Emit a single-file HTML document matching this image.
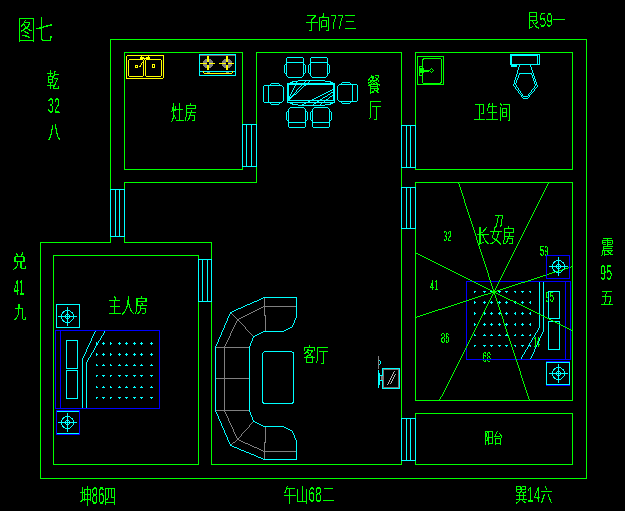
<!DOCTYPE html>
<html lang="zh">
<head>
<meta charset="utf-8">
<title>图七</title>
<style>
html,body{margin:0;padding:0;background:#000;overflow:hidden}
svg{display:block}
#geo{fill:none;stroke-width:1;stroke-linecap:square}
#geo{shape-rendering:crispEdges}
#txt text{font-family:"Liberation Sans","Noto Sans CJK SC",sans-serif;font-size:100px;font-weight:100;fill:#00ff00}
#txt .m{font-size:112px}
</style>
</head>
<body>
<svg width="625" height="511" viewBox="0 0 625 511">
<rect width="625" height="511" fill="#000"/>
<defs><filter id="crisp" x="0" y="0" width="625" height="511" filterUnits="userSpaceOnUse" color-interpolation-filters="sRGB"><feComponentTransfer><feFuncA type="discrete" tableValues="0 1 1 1 1 1"/></feComponentTransfer></filter></defs>
<g id="txt" filter="url(#crisp)">
<text transform="matrix(0.1775 0 0 0.2717 17.40 39.83)">图七</text>
<text transform="matrix(0.1227 0 0 0.1811 305.63 28.87)">子向<tspan class="m" fill-opacity="0.29" textLength="112" lengthAdjust="spacingAndGlyphs">77</tspan>三</text>
<text transform="matrix(0.1212 0 0 0.1848 527.28 26.72)">艮<tspan class="m" fill-opacity="0.29" textLength="112" lengthAdjust="spacingAndGlyphs">59</tspan>一</text>
<text transform="matrix(0.1263 0 0 0.2065 47.00 88.15)">乾</text>
<text transform="matrix(0.1092 0 0 0.2144 47.85 113.10)" fill-opacity="0.32">32</text>
<text transform="matrix(0.1263 0 0 0.1919 48.00 139.19)">八</text>
<text transform="matrix(0.1452 0 0 0.1811 12.17 267.87)">兑</text>
<text transform="matrix(0.0930 0 0 0.2144 13.85 295.10)" fill-opacity="0.36">41</text>
<text transform="matrix(0.1263 0 0 0.1739 14.00 317.81)">九</text>
<text transform="matrix(0.1263 0 0 0.1957 601.00 254.43)">震</text>
<text transform="matrix(0.1092 0 0 0.2144 600.00 280.10)" fill-opacity="0.32">95</text>
<text transform="matrix(0.1347 0 0 0.1707 600.17 303.56)">五</text>
<text transform="matrix(0.1158 0 0 0.2071 79.89 504.39)">坤<tspan class="m" fill-opacity="0.32" textLength="112" lengthAdjust="spacingAndGlyphs">86</tspan>四</text>
<text transform="matrix(0.1227 0 0 0.1893 283.63 501.78)">午山<tspan class="m" fill-opacity="0.29" textLength="112" lengthAdjust="spacingAndGlyphs">68</tspan>二</text>
<text transform="matrix(0.1182 0 0 0.1957 515.30 502.43)">巽<tspan class="m" fill-opacity="0.29" textLength="112" lengthAdjust="spacingAndGlyphs">14</tspan>六</text>
<text transform="matrix(0.1316 0 0 0.2065 171.00 120.35)">灶房</text>
<text transform="matrix(0.1347 0 0 0.2071 367.17 92.39)">餐</text>
<text transform="matrix(0.1263 0 0 0.2087 369.00 116.77)">厅</text>
<text transform="matrix(0.1263 0 0 0.1882 473.20 118.73)">卫生间</text>
<text transform="matrix(0.1333 0 0 0.2065 108.20 313.35)">主人房</text>
<text transform="matrix(0.1265 0 0 0.1920 303.17 361.74)">客厅</text>
<text transform="matrix(0.1299 0 0 0.1920 476.18 242.74)">长女房</text>
<text transform="matrix(0.0935 0 0 0.1522 484.19 442.98)">阳台</text>
<text transform="matrix(0.0758 0 0 0.1396 443.30 240.86)" fill-opacity="0.4">32</text>
<text transform="matrix(0.0758 0 0 0.1605 495.09 226.69)" fill-opacity="0.5">77</text>
<text transform="matrix(0.0758 0 0 0.1396 540.00 255.86)" fill-opacity="0.4">59</text>
<text transform="matrix(0.0758 0 0 0.1396 430.00 289.86)" fill-opacity="0.45">41</text>
<text transform="matrix(0.0758 0 0 0.1396 441.09 342.86)" fill-opacity="0.4">86</text>
<text transform="matrix(0.0758 0 0 0.1396 482.45 361.86)" fill-opacity="0.36">68</text>
<text transform="matrix(0.0758 0 0 0.1396 545.54 301.86)" fill-opacity="0.4">95</text>
<text transform="matrix(0.0511 0 0 0.1396 534.01 346.86)" fill-opacity="0.45">14</text>
</g>
<g id="geo" transform="translate(0.5,0.5)">
<g id="walls">
<polyline points="110,242 40,242 40,478 586,478 586,39 110,39 110,242" stroke="#00ff00"/>
<rect x="124" y="52" width="118" height="117" stroke="#00ff00"/>
<polyline points="256,52 401,52 401,464 211,464 211,242 124,242 124,182 256,182 256,52" stroke="#00ff00"/>
<rect x="53" y="255" width="145" height="209" stroke="#00ff00"/>
<rect x="415" y="52" width="157" height="117" stroke="#00ff00"/>
<rect x="415" y="182" width="157" height="218" stroke="#00ff00"/>
<rect x="415" y="413" width="157" height="51" stroke="#00ff00"/>
</g>
<g id="windows">
<rect x="110" y="189" width="14" height="47" stroke="#00ffff" fill="#000"/>
<line x1="115" y1="189" x2="115" y2="236" stroke="#00ffff"/>
<line x1="119" y1="189" x2="119" y2="236" stroke="#00ffff"/>
<rect x="242" y="124" width="14" height="42" stroke="#00ffff" fill="#000"/>
<line x1="246" y1="124" x2="246" y2="166" stroke="#00ffff"/>
<line x1="251" y1="124" x2="251" y2="166" stroke="#00ffff"/>
<rect x="198" y="259" width="13" height="42" stroke="#00ffff" fill="#000"/>
<line x1="202" y1="259" x2="202" y2="301" stroke="#00ffff"/>
<line x1="207" y1="259" x2="207" y2="301" stroke="#00ffff"/>
<rect x="401" y="125" width="14" height="42" stroke="#00ffff" fill="#000"/>
<line x1="406" y1="125" x2="406" y2="167" stroke="#00ffff"/>
<line x1="410" y1="125" x2="410" y2="167" stroke="#00ffff"/>
<rect x="401" y="187" width="14" height="41" stroke="#00ffff" fill="#000"/>
<line x1="406" y1="187" x2="406" y2="228" stroke="#00ffff"/>
<line x1="410" y1="187" x2="410" y2="228" stroke="#00ffff"/>
<rect x="401" y="418" width="14" height="42" stroke="#00ffff" fill="#000"/>
<line x1="406" y1="418" x2="406" y2="460" stroke="#00ffff"/>
<line x1="410" y1="418" x2="410" y2="460" stroke="#00ffff"/>
</g>
<g id="beds">
<g stroke="#00ffff" stroke-linecap="butt">
<line x1="95.5" y1="343" x2="97.5" y2="343"/><line x1="96" y1="341.5" x2="96" y2="344.5"/>
<line x1="101.5" y1="343" x2="104.5" y2="343"/><line x1="103" y1="341.5" x2="103" y2="344.5"/>
<line x1="109.5" y1="343" x2="111.5" y2="343"/><line x1="110" y1="341.5" x2="110" y2="344.5"/>
<line x1="117.5" y1="343" x2="120.5" y2="343"/><line x1="119" y1="341.5" x2="119" y2="344.5"/>
<line x1="124.5" y1="343" x2="127.5" y2="343"/><line x1="126" y1="341.5" x2="126" y2="344.5"/>
<line x1="132.5" y1="343" x2="135.5" y2="343"/><line x1="134" y1="341.5" x2="134" y2="344.5"/>
<line x1="139.5" y1="343" x2="142.5" y2="343"/><line x1="141" y1="341.5" x2="141" y2="344.5"/>
<line x1="149.5" y1="343" x2="152.5" y2="343"/><line x1="151" y1="341.5" x2="151" y2="344.5"/>
<line x1="95.5" y1="354" x2="97.5" y2="354"/><line x1="96" y1="352.5" x2="96" y2="355.5"/>
<line x1="101.5" y1="354" x2="104.5" y2="354"/><line x1="103" y1="352.5" x2="103" y2="355.5"/>
<line x1="109.5" y1="354" x2="111.5" y2="354"/><line x1="110" y1="352.5" x2="110" y2="355.5"/>
<line x1="117.5" y1="354" x2="120.5" y2="354"/><line x1="119" y1="352.5" x2="119" y2="355.5"/>
<line x1="124.5" y1="354" x2="127.5" y2="354"/><line x1="126" y1="352.5" x2="126" y2="355.5"/>
<line x1="132.5" y1="354" x2="135.5" y2="354"/><line x1="134" y1="352.5" x2="134" y2="355.5"/>
<line x1="139.5" y1="354" x2="142.5" y2="354"/><line x1="141" y1="352.5" x2="141" y2="355.5"/>
<line x1="149.5" y1="354" x2="152.5" y2="354"/><line x1="151" y1="352.5" x2="151" y2="355.5"/>
<line x1="95.5" y1="365" x2="97.5" y2="365"/><line x1="96" y1="363.5" x2="96" y2="365.5"/>
<line x1="101.5" y1="365" x2="104.5" y2="365"/><line x1="103" y1="363.5" x2="103" y2="365.5"/>
<line x1="109.5" y1="365" x2="111.5" y2="365"/><line x1="110" y1="363.5" x2="110" y2="365.5"/>
<line x1="117.5" y1="365" x2="120.5" y2="365"/><line x1="119" y1="363.5" x2="119" y2="365.5"/>
<line x1="124.5" y1="365" x2="127.5" y2="365"/><line x1="126" y1="363.5" x2="126" y2="365.5"/>
<line x1="132.5" y1="365" x2="135.5" y2="365"/><line x1="134" y1="363.5" x2="134" y2="365.5"/>
<line x1="139.5" y1="365" x2="142.5" y2="365"/><line x1="141" y1="363.5" x2="141" y2="365.5"/>
<line x1="149.5" y1="365" x2="152.5" y2="365"/><line x1="151" y1="363.5" x2="151" y2="365.5"/>
<line x1="95.5" y1="375" x2="97.5" y2="375"/><line x1="96" y1="374.5" x2="96" y2="376.5"/>
<line x1="101.5" y1="375" x2="104.5" y2="375"/><line x1="103" y1="374.5" x2="103" y2="376.5"/>
<line x1="109.5" y1="375" x2="111.5" y2="375"/><line x1="110" y1="374.5" x2="110" y2="376.5"/>
<line x1="117.5" y1="375" x2="120.5" y2="375"/><line x1="119" y1="374.5" x2="119" y2="376.5"/>
<line x1="124.5" y1="375" x2="127.5" y2="375"/><line x1="126" y1="374.5" x2="126" y2="376.5"/>
<line x1="132.5" y1="375" x2="135.5" y2="375"/><line x1="134" y1="374.5" x2="134" y2="376.5"/>
<line x1="139.5" y1="375" x2="142.5" y2="375"/><line x1="141" y1="374.5" x2="141" y2="376.5"/>
<line x1="149.5" y1="375" x2="152.5" y2="375"/><line x1="151" y1="374.5" x2="151" y2="376.5"/>
<line x1="95.5" y1="387" x2="97.5" y2="387"/><line x1="96" y1="385.5" x2="96" y2="387.5"/>
<line x1="101.5" y1="387" x2="104.5" y2="387"/><line x1="103" y1="385.5" x2="103" y2="387.5"/>
<line x1="109.5" y1="387" x2="111.5" y2="387"/><line x1="110" y1="385.5" x2="110" y2="387.5"/>
<line x1="117.5" y1="387" x2="120.5" y2="387"/><line x1="119" y1="385.5" x2="119" y2="387.5"/>
<line x1="124.5" y1="387" x2="127.5" y2="387"/><line x1="126" y1="385.5" x2="126" y2="387.5"/>
<line x1="132.5" y1="387" x2="135.5" y2="387"/><line x1="134" y1="385.5" x2="134" y2="387.5"/>
<line x1="139.5" y1="387" x2="142.5" y2="387"/><line x1="141" y1="385.5" x2="141" y2="387.5"/>
<line x1="149.5" y1="387" x2="152.5" y2="387"/><line x1="151" y1="385.5" x2="151" y2="387.5"/>
<line x1="95.5" y1="397" x2="97.5" y2="397"/><line x1="96" y1="396.5" x2="96" y2="398.5"/>
<line x1="101.5" y1="397" x2="104.5" y2="397"/><line x1="103" y1="396.5" x2="103" y2="398.5"/>
<line x1="109.5" y1="397" x2="111.5" y2="397"/><line x1="110" y1="396.5" x2="110" y2="398.5"/>
<line x1="117.5" y1="397" x2="120.5" y2="397"/><line x1="119" y1="396.5" x2="119" y2="398.5"/>
<line x1="124.5" y1="397" x2="127.5" y2="397"/><line x1="126" y1="396.5" x2="126" y2="398.5"/>
<line x1="132.5" y1="397" x2="135.5" y2="397"/><line x1="134" y1="396.5" x2="134" y2="398.5"/>
<line x1="139.5" y1="397" x2="142.5" y2="397"/><line x1="141" y1="396.5" x2="141" y2="398.5"/>
<line x1="149.5" y1="397" x2="152.5" y2="397"/><line x1="151" y1="396.5" x2="151" y2="398.5"/>
</g>
<g stroke="#00ffff" stroke-linecap="butt">
<line x1="473.5" y1="291" x2="475.5" y2="291"/><line x1="474" y1="290.5" x2="474" y2="292.5"/>
<line x1="482.5" y1="291" x2="485.5" y2="291"/><line x1="484" y1="290.5" x2="484" y2="292.5"/>
<line x1="489.5" y1="291" x2="492.5" y2="291"/><line x1="491" y1="290.5" x2="491" y2="292.5"/>
<line x1="497.5" y1="291" x2="500.5" y2="291"/><line x1="499" y1="290.5" x2="499" y2="292.5"/>
<line x1="504.5" y1="291" x2="507.5" y2="291"/><line x1="506" y1="290.5" x2="506" y2="292.5"/>
<line x1="513.5" y1="291" x2="515.5" y2="291"/><line x1="515" y1="290.5" x2="515" y2="292.5"/>
<line x1="520.5" y1="291" x2="523.5" y2="291"/><line x1="522" y1="290.5" x2="522" y2="292.5"/>
<line x1="528.5" y1="291" x2="530.5" y2="291"/><line x1="530" y1="290.5" x2="530" y2="292.5"/>
<line x1="473.5" y1="302" x2="475.5" y2="302"/><line x1="474" y1="300.5" x2="474" y2="303.5"/>
<line x1="482.5" y1="302" x2="485.5" y2="302"/><line x1="484" y1="300.5" x2="484" y2="303.5"/>
<line x1="489.5" y1="302" x2="492.5" y2="302"/><line x1="491" y1="300.5" x2="491" y2="303.5"/>
<line x1="497.5" y1="302" x2="500.5" y2="302"/><line x1="499" y1="300.5" x2="499" y2="303.5"/>
<line x1="504.5" y1="302" x2="507.5" y2="302"/><line x1="506" y1="300.5" x2="506" y2="303.5"/>
<line x1="513.5" y1="302" x2="515.5" y2="302"/><line x1="515" y1="300.5" x2="515" y2="303.5"/>
<line x1="520.5" y1="302" x2="523.5" y2="302"/><line x1="522" y1="300.5" x2="522" y2="303.5"/>
<line x1="528.5" y1="302" x2="530.5" y2="302"/><line x1="530" y1="300.5" x2="530" y2="303.5"/>
<line x1="473.5" y1="313" x2="475.5" y2="313"/><line x1="474" y1="311.5" x2="474" y2="314.5"/>
<line x1="482.5" y1="313" x2="485.5" y2="313"/><line x1="484" y1="311.5" x2="484" y2="314.5"/>
<line x1="489.5" y1="313" x2="492.5" y2="313"/><line x1="491" y1="311.5" x2="491" y2="314.5"/>
<line x1="497.5" y1="313" x2="500.5" y2="313"/><line x1="499" y1="311.5" x2="499" y2="314.5"/>
<line x1="504.5" y1="313" x2="507.5" y2="313"/><line x1="506" y1="311.5" x2="506" y2="314.5"/>
<line x1="513.5" y1="313" x2="515.5" y2="313"/><line x1="515" y1="311.5" x2="515" y2="314.5"/>
<line x1="520.5" y1="313" x2="523.5" y2="313"/><line x1="522" y1="311.5" x2="522" y2="314.5"/>
<line x1="528.5" y1="313" x2="530.5" y2="313"/><line x1="530" y1="311.5" x2="530" y2="314.5"/>
<line x1="473.5" y1="324" x2="475.5" y2="324"/><line x1="474" y1="322.5" x2="474" y2="325.5"/>
<line x1="482.5" y1="324" x2="485.5" y2="324"/><line x1="484" y1="322.5" x2="484" y2="325.5"/>
<line x1="489.5" y1="324" x2="492.5" y2="324"/><line x1="491" y1="322.5" x2="491" y2="325.5"/>
<line x1="497.5" y1="324" x2="500.5" y2="324"/><line x1="499" y1="322.5" x2="499" y2="325.5"/>
<line x1="504.5" y1="324" x2="507.5" y2="324"/><line x1="506" y1="322.5" x2="506" y2="325.5"/>
<line x1="513.5" y1="324" x2="515.5" y2="324"/><line x1="515" y1="322.5" x2="515" y2="325.5"/>
<line x1="520.5" y1="324" x2="523.5" y2="324"/><line x1="522" y1="322.5" x2="522" y2="325.5"/>
<line x1="528.5" y1="324" x2="530.5" y2="324"/><line x1="530" y1="322.5" x2="530" y2="325.5"/>
<line x1="473.5" y1="335" x2="475.5" y2="335"/><line x1="474" y1="333.5" x2="474" y2="335.5"/>
<line x1="482.5" y1="335" x2="485.5" y2="335"/><line x1="484" y1="333.5" x2="484" y2="335.5"/>
<line x1="489.5" y1="335" x2="492.5" y2="335"/><line x1="491" y1="333.5" x2="491" y2="335.5"/>
<line x1="497.5" y1="335" x2="500.5" y2="335"/><line x1="499" y1="333.5" x2="499" y2="335.5"/>
<line x1="504.5" y1="335" x2="507.5" y2="335"/><line x1="506" y1="333.5" x2="506" y2="335.5"/>
<line x1="513.5" y1="335" x2="515.5" y2="335"/><line x1="515" y1="333.5" x2="515" y2="335.5"/>
<line x1="520.5" y1="335" x2="523.5" y2="335"/><line x1="522" y1="333.5" x2="522" y2="335.5"/>
<line x1="528.5" y1="335" x2="530.5" y2="335"/><line x1="530" y1="333.5" x2="530" y2="335.5"/>
<line x1="473.5" y1="345" x2="475.5" y2="345"/><line x1="474" y1="344.5" x2="474" y2="346.5"/>
<line x1="482.5" y1="345" x2="485.5" y2="345"/><line x1="484" y1="344.5" x2="484" y2="346.5"/>
<line x1="489.5" y1="345" x2="492.5" y2="345"/><line x1="491" y1="344.5" x2="491" y2="346.5"/>
<line x1="497.5" y1="345" x2="500.5" y2="345"/><line x1="499" y1="344.5" x2="499" y2="346.5"/>
<line x1="504.5" y1="345" x2="507.5" y2="345"/><line x1="506" y1="344.5" x2="506" y2="346.5"/>
<line x1="513.5" y1="345" x2="515.5" y2="345"/><line x1="515" y1="344.5" x2="515" y2="346.5"/>
<line x1="520.5" y1="345" x2="523.5" y2="345"/><line x1="522" y1="344.5" x2="522" y2="346.5"/>
<line x1="528.5" y1="345" x2="530.5" y2="345"/><line x1="530" y1="344.5" x2="530" y2="346.5"/>
</g>
<g>
<rect x="66" y="340" width="11" height="28" stroke="#00ffff"/>
<rect x="66" y="370" width="11" height="28" stroke="#00ffff"/>
<polygon points="94.72,329.50 95.72,329.50 82.28,359.50 81.28,359.50" fill="#00ffff" stroke="none"/>
<line x1="82" y1="359" x2="82" y2="408" stroke="#00ffff"/>
<polygon points="104.80,329.50 105.80,329.50 86.20,362.50 85.20,362.50" fill="#00ffff" stroke="none"/>
<line x1="86" y1="362" x2="86" y2="408" stroke="#00ffff"/>
<rect x="55" y="330" width="104" height="78" stroke="#0000ff"/>
<line x1="60" y1="330" x2="60" y2="408" stroke="#0000ff"/>
</g>
<rect x="548" y="291" width="11" height="27" stroke="#00ffff"/>
<rect x="548" y="321" width="11" height="28" stroke="#00ffff"/>
<g transform="translate(625,689) scale(-1,-1)">
<polygon points="94.72,329.50 95.72,329.50 82.28,359.50 81.28,359.50" fill="#00ffff" stroke="none"/>
<line x1="82" y1="359" x2="82" y2="408" stroke="#00ffff"/>
<polygon points="104.80,329.50 105.80,329.50 86.20,362.50 85.20,362.50" fill="#00ffff" stroke="none"/>
<line x1="86" y1="362" x2="86" y2="408" stroke="#00ffff"/>
<rect x="55" y="330" width="104" height="78" stroke="#0000ff"/>
<line x1="60" y1="330" x2="60" y2="408" stroke="#0000ff"/>
</g>
</g>
<g id="rays">
<polygon points="457.34,181.50 458.34,181.50 494.16,291.90 493.16,291.90" fill="#00ff00" stroke="none"/>
<polygon points="547.75,181.50 548.75,181.50 493.75,291.90 492.75,291.90" fill="#00ff00" stroke="none"/>
<polygon points="414.50,251.25 414.50,252.25 494.00,292.15 494.00,291.15" fill="#00ff00" stroke="none"/>
<polygon points="414.50,316.66 414.50,317.66 494.00,291.74 494.00,290.74" fill="#00ff00" stroke="none"/>
<polygon points="493.00,291.06 493.00,292.06 572.50,266.34 572.50,265.34" fill="#00ff00" stroke="none"/>
<polygon points="493.00,290.65 493.00,291.65 572.50,330.75 572.50,329.75" fill="#00ff00" stroke="none"/>
<polygon points="493.25,290.90 494.25,290.90 439.25,400.50 438.25,400.50" fill="#00ff00" stroke="none"/>
<polygon points="492.84,290.90 493.84,290.90 529.66,400.50 528.66,400.50" fill="#00ff00" stroke="none"/>
</g>
<g id="stands">
<rect x="56" y="304" width="23" height="23" stroke="#00ffff"/>
<circle cx="67" cy="316" r="6" stroke="#00ffff"/>
<circle cx="67" cy="316" r="2" stroke="#00ffff"/>
<line x1="58" y1="316" x2="76" y2="316" stroke="#00ffff"/>
<line x1="67" y1="307" x2="67" y2="325" stroke="#00ffff"/>
<line x1="57" y1="411" x2="78" y2="411" stroke="#00ffff"/>
<line x1="57" y1="433" x2="78" y2="433" stroke="#00ffff"/>
<rect x="56" y="410" width="23" height="24" stroke="#0000ff"/>
<circle cx="67" cy="422" r="6" stroke="#00ffff"/>
<circle cx="67" cy="422" r="2" stroke="#00ffff"/>
<line x1="58" y1="422" x2="76" y2="422" stroke="#00ffff"/>
<line x1="67" y1="413" x2="67" y2="431" stroke="#00ffff"/>
<rect x="546" y="255" width="23" height="23" stroke="#0000ff"/>
<circle cx="558" cy="266" r="6" stroke="#00ffff"/>
<circle cx="558" cy="266" r="2" stroke="#00ffff"/>
<line x1="549" y1="266" x2="567" y2="266" stroke="#00ffff"/>
<line x1="558" y1="257" x2="558" y2="275" stroke="#00ffff"/>
<line x1="546" y1="361" x2="569" y2="361" stroke="#0000ff"/>
<line x1="546" y1="385" x2="569" y2="385" stroke="#0000ff"/>
<rect x="546" y="362" width="23" height="22" stroke="#00ffff"/>
<circle cx="558" cy="373" r="6" stroke="#00ffff"/>
<circle cx="558" cy="373" r="2" stroke="#00ffff"/>
<line x1="549" y1="373" x2="567" y2="373" stroke="#00ffff"/>
<line x1="558" y1="364" x2="558" y2="382" stroke="#00ffff"/>
</g>
<g id="sofa">
<line x1="264" y1="297" x2="264" y2="315" stroke="#808080"/>
<line x1="265" y1="315" x2="265" y2="331" stroke="#808080"/>
<line x1="264" y1="306" x2="296" y2="306" stroke="#808080"/>
<polygon points="236.50,318.74 236.50,319.74 264.50,306.26 264.50,305.26" fill="#808080" stroke="none"/>
<polygon points="229.00,311.50 230.00,311.50 238.00,319.50 237.00,319.50" fill="#808080" stroke="none"/>
<polygon points="236.03,318.50 237.03,318.50 253.97,336.50 252.97,336.50" fill="#808080" stroke="none"/>
<polygon points="236.73,318.50 237.73,318.50 224.27,347.50 223.27,347.50" fill="#808080" stroke="none"/>
<line x1="215" y1="347" x2="249" y2="347" stroke="#808080"/>
<line x1="265" y1="426" x2="265" y2="442" stroke="#808080"/>
<line x1="264" y1="442" x2="264" y2="459" stroke="#808080"/>
<line x1="264" y1="451" x2="296" y2="451" stroke="#808080"/>
<polygon points="236.50,438.28 236.50,439.28 264.50,451.72 264.50,450.72" fill="#808080" stroke="none"/>
<polygon points="229.50,444.93 229.50,445.93 237.50,439.07 237.50,438.07" fill="#808080" stroke="none"/>
<polygon points="252.94,420.50 253.94,420.50 237.06,439.50 236.06,439.50" fill="#808080" stroke="none"/>
<polygon points="223.28,409.50 224.28,409.50 237.72,439.50 236.72,439.50" fill="#808080" stroke="none"/>
<line x1="215" y1="410" x2="249" y2="410" stroke="#808080"/>
<line x1="224" y1="347" x2="224" y2="410" stroke="#808080"/>
<line x1="215" y1="378" x2="249" y2="378" stroke="#808080"/>
<line x1="296" y1="297" x2="264" y2="297" stroke="#00ffff"/>
<polygon points="229.50,311.72 229.50,312.72 264.50,297.28 264.50,296.28" fill="#00ffff" stroke="none"/>
<polygon points="229.71,311.50 230.71,311.50 215.29,347.50 214.29,347.50" fill="#00ffff" stroke="none"/>
<line x1="215" y1="347" x2="215" y2="410" stroke="#00ffff"/>
<polygon points="214.29,409.50 215.29,409.50 230.71,445.50 229.71,445.50" fill="#00ffff" stroke="none"/>
<polygon points="229.50,444.29 229.50,445.29 264.50,459.71 264.50,458.71" fill="#00ffff" stroke="none"/>
<line x1="264" y1="459" x2="296" y2="459" stroke="#00ffff"/>
<line x1="296" y1="297" x2="296" y2="316" stroke="#00ffff"/>
<polygon points="295.69,315.50 296.69,315.50 293.31,324.50 292.31,324.50" fill="#00ffff" stroke="none"/>
<polygon points="292.83,323.50 293.83,323.50 291.17,327.50 290.17,327.50" fill="#00ffff" stroke="none"/>
<polygon points="281.50,330.72 281.50,331.72 291.50,327.28 291.50,326.28" fill="#00ffff" stroke="none"/>
<line x1="282" y1="331" x2="264" y2="331" stroke="#00ffff"/>
<polygon points="252.50,335.73 252.50,336.73 264.50,331.27 264.50,330.27" fill="#00ffff" stroke="none"/>
<polygon points="252.68,335.50 253.68,335.50 249.32,347.50 248.32,347.50" fill="#00ffff" stroke="none"/>
<line x1="249" y1="347" x2="249" y2="410" stroke="#00ffff"/>
<polygon points="248.32,409.50 249.32,409.50 253.68,421.50 252.68,421.50" fill="#00ffff" stroke="none"/>
<polygon points="252.50,420.27 252.50,421.27 264.50,426.73 264.50,425.73" fill="#00ffff" stroke="none"/>
<line x1="264" y1="426" x2="282" y2="426" stroke="#00ffff"/>
<polygon points="281.50,425.28 281.50,426.28 291.50,430.72 291.50,429.72" fill="#00ffff" stroke="none"/>
<polygon points="290.17,429.50 291.17,429.50 293.83,433.50 292.83,433.50" fill="#00ffff" stroke="none"/>
<polygon points="292.31,432.50 293.31,432.50 296.69,441.50 295.69,441.50" fill="#00ffff" stroke="none"/>
<line x1="296" y1="441" x2="296" y2="459" stroke="#00ffff"/>
<rect x="262" y="351" width="31" height="52" rx="3" stroke="#00ffff"/>
</g>
<g id="tv">
<rect x="383" y="369" width="15" height="18" stroke="#807070"/>
<polygon points="393.77,370.50 394.77,370.50 387.23,384.50 386.23,384.50" fill="#b0b0b0" stroke="none"/>
<polygon points="394.78,373.50 395.78,373.50 390.22,383.50 389.22,383.50" fill="#b0b0b0" stroke="none"/>
<rect x="382" y="368" width="17" height="20" stroke="#00ffff"/>
<line x1="378" y1="370" x2="378" y2="387" stroke="#00ffff"/>
<line x1="379" y1="373" x2="379" y2="384" stroke="#00ffff"/>
<rect x="380" y="375" width="2" height="5" fill="#808080" stroke="none"/>
<path d="M379,375 H382 M379,380 H382" stroke="#00ffff"/>
<line x1="378" y1="356" x2="378" y2="368" stroke="#808080"/>
<polygon points="378.25,359.50 379.25,359.50 380.75,362.50 379.75,362.50" fill="#00ffff" stroke="none"/>
<polygon points="379.75,361.50 380.75,361.50 379.25,364.50 378.25,364.50" fill="#00ffff" stroke="none"/>
</g>
<g id="dining">
<g transform="translate(284,57)">
<path d="M3,0 H18 L19,1 V4 L18,5 H3 L2,4 V1 Z" stroke="#00ffff"/>
<path d="M2,5 V18 L4,20 H17 L19,18 V5" stroke="#00ffff"/>
<path d="M2,7 H1 L0,8 V15 L1,16 H2" stroke="#00ffff"/>
<path d="M19,7 H20 L21,8 V15 L20,16 H19" stroke="#00ffff"/>
</g>
<g transform="translate(308,57)">
<path d="M3,0 H18 L19,1 V4 L18,5 H3 L2,4 V1 Z" stroke="#00ffff"/>
<path d="M2,5 V18 L4,20 H17 L19,18 V5" stroke="#00ffff"/>
<path d="M2,7 H1 L0,8 V15 L1,16 H2" stroke="#00ffff"/>
<path d="M19,7 H20 L21,8 V15 L20,16 H19" stroke="#00ffff"/>
</g>
<g transform="translate(286,127) scale(1,-1)">
<path d="M3,0 H18 L19,1 V4 L18,5 H3 L2,4 V1 Z" stroke="#00ffff"/>
<path d="M2,5 V18 L4,20 H17 L19,18 V5" stroke="#00ffff"/>
<path d="M2,7 H1 L0,8 V15 L1,16 H2" stroke="#00ffff"/>
<path d="M19,7 H20 L21,8 V15 L20,16 H19" stroke="#00ffff"/>
</g>
<g transform="translate(310,127) scale(1,-1)">
<path d="M3,0 H18 L19,1 V4 L18,5 H3 L2,4 V1 Z" stroke="#00ffff"/>
<path d="M2,5 V18 L4,20 H17 L19,18 V5" stroke="#00ffff"/>
<path d="M2,7 H1 L0,8 V15 L1,16 H2" stroke="#00ffff"/>
<path d="M19,7 H20 L21,8 V15 L20,16 H19" stroke="#00ffff"/>
</g>
<g transform="translate(263,104) rotate(-90)">
<path d="M3,0 H18 L19,1 V4 L18,5 H3 L2,4 V1 Z" stroke="#00ffff"/>
<path d="M2,5 V18 L4,20 H17 L19,18 V5" stroke="#00ffff"/>
<path d="M2,7 H1 L0,8 V15 L1,16 H2" stroke="#00ffff"/>
<path d="M19,7 H20 L21,8 V15 L20,16 H19" stroke="#00ffff"/>
</g>
<g transform="translate(357,82) rotate(90)">
<path d="M3,0 H18 L19,1 V4 L18,5 H3 L2,4 V1 Z" stroke="#00ffff"/>
<path d="M2,5 V18 L4,20 H17 L19,18 V5" stroke="#00ffff"/>
<path d="M2,7 H1 L0,8 V15 L1,16 H2" stroke="#00ffff"/>
<path d="M19,7 H20 L21,8 V15 L20,16 H19" stroke="#00ffff"/>
</g>
<rect x="287" y="83" width="47" height="19" stroke="#00ffff"/>
<rect x="288" y="84" width="45" height="16" stroke="#00ffff"/>
<path d="M290,82 L294,81 L301,80 H321 L328,81 L332,82 M290,103 L294,104 L301,105 H321 L328,104 L332,103" stroke="#00ffff"/>
<polygon points="295.74,81.50 296.74,81.50 288.26,99.50 287.26,99.50" fill="#00ffff" stroke="none"/>
<polygon points="304.97,80.50 305.97,80.50 288.03,99.50 287.03,99.50" fill="#00ffff" stroke="none"/>
<polygon points="288.50,98.95 288.50,99.95 309.50,81.05 309.50,80.05" fill="#00ffff" stroke="none"/>
<polygon points="301.50,103.74 301.50,104.74 333.50,89.26 333.50,88.26" fill="#00ffff" stroke="none"/>
<polygon points="312.50,103.83 312.50,104.83 333.50,91.17 333.50,90.17" fill="#00ffff" stroke="none"/>
<polygon points="319.50,103.88 319.50,104.88 333.50,94.12 333.50,93.12" fill="#00ffff" stroke="none"/>
</g>
<g id="sink">
<rect x="126" y="55" width="37" height="23" rx="1.5" stroke="#ffff00"/>
<rect x="128" y="59" width="15" height="17" rx="2" stroke="#ffff00"/>
<rect x="145" y="59" width="16" height="17" rx="2" stroke="#ffff00"/>
<rect x="135" y="65" width="2" height="2" stroke="#ffff00"/>
<rect x="152" y="64" width="2" height="3" stroke="#ffff00"/>
<line x1="141" y1="55" x2="141" y2="57" stroke="#ffff00"/>
<line x1="148" y1="55" x2="148" y2="57" stroke="#ffff00"/>
<rect x="140" y="57" width="3" height="1" stroke="#ffff00"/>
<rect x="146" y="57" width="3" height="1" stroke="#ffff00"/>
<line x1="144.5" y1="58" x2="139.5" y2="66" stroke="#ffff00" stroke-dasharray="3 1"/>
</g>
<g id="stove">
<line x1="200" y1="55" x2="235" y2="55" stroke="#806060"/>
<circle cx="207.5" cy="63" r="5" fill="#808080" stroke="none"/>
<line x1="200" y1="63" x2="214" y2="63" stroke="#ffff00"/>
<rect x="206.5" y="55.5" width="2" height="14" fill="#ffff00" stroke="none"/>
<rect x="206.5" y="61.5" width="2" height="3" fill="#000" stroke="none"/>
<rect x="206.5" y="71.5" width="3" height="1" fill="#808080" stroke="none"/>
<circle cx="226.5" cy="63" r="5" fill="#808080" stroke="none"/>
<line x1="219" y1="63" x2="233" y2="63" stroke="#ffff00"/>
<rect x="225.5" y="55.5" width="2" height="14" fill="#ffff00" stroke="none"/>
<rect x="225.5" y="61.5" width="2" height="3" fill="#000" stroke="none"/>
<rect x="225.5" y="71.5" width="3" height="1" fill="#808080" stroke="none"/>
<rect x="199" y="54" width="36" height="21" stroke="#00ffff"/>
<line x1="199" y1="71" x2="235" y2="71" stroke="#00ffff"/>
<path d="M203,71 V72 L204,73 H231 L232,72 V71" stroke="#ffff00"/>
</g>
<g id="basin">
<rect x="417" y="56" width="26" height="28" stroke="#00ff00"/>
<rect x="422" y="58" width="19" height="25" rx="2.5" stroke="#00ff00"/>
<rect x="419" y="66" width="3" height="9" stroke="#00ff00"/>
<rect x="419.5" y="67.5" width="4" height="5" fill="#00ff00" stroke="none"/>
<rect x="423.5" y="69.5" width="5" height="2" fill="#00ff00" stroke="none"/>
<path d="M429,70 L431,68 L433,70 L431,72 Z" stroke="#00ff00"/>
</g>
<g id="toilet">
<rect x="510" y="54" width="29" height="10" stroke="#00ffff"/>
<rect x="511" y="55" width="26" height="9" stroke="#00ffff"/>
<rect x="511" y="65" width="5" height="1" stroke="#00ffff"/>
<polygon points="518.65,64.50 519.65,64.50 513.35,85.50 512.35,85.50" fill="#00ffff" stroke="none"/>
<polygon points="512.12,84.50 513.12,84.50 523.88,98.50 522.88,98.50" fill="#00ffff" stroke="none"/>
<line x1="523" y1="98" x2="527" y2="98" stroke="#00ffff"/>
<polygon points="536.92,85.50 537.92,85.50 527.08,98.50 526.08,98.50" fill="#00ffff" stroke="none"/>
<polygon points="529.33,64.50 530.33,64.50 537.67,86.50 536.67,86.50" fill="#00ffff" stroke="none"/>
<polygon points="518.68,72.50 519.68,72.50 515.32,84.50 514.32,84.50" fill="#00ffff" stroke="none"/>
<line x1="519" y1="73" x2="531" y2="73" stroke="#00ffff"/>
<polygon points="530.33,72.50 531.33,72.50 535.67,85.50 534.67,85.50" fill="#00ffff" stroke="none"/>
<polygon points="534.86,84.50 535.86,84.50 527.14,96.50 526.14,96.50" fill="#00ffff" stroke="none"/>
<line x1="527" y1="96" x2="523" y2="96" stroke="#00ffff"/>
<polygon points="514.17,83.50 515.17,83.50 523.83,96.50 522.83,96.50" fill="#00ffff" stroke="none"/>
</g>
</g>
</svg>
</body>
</html>
